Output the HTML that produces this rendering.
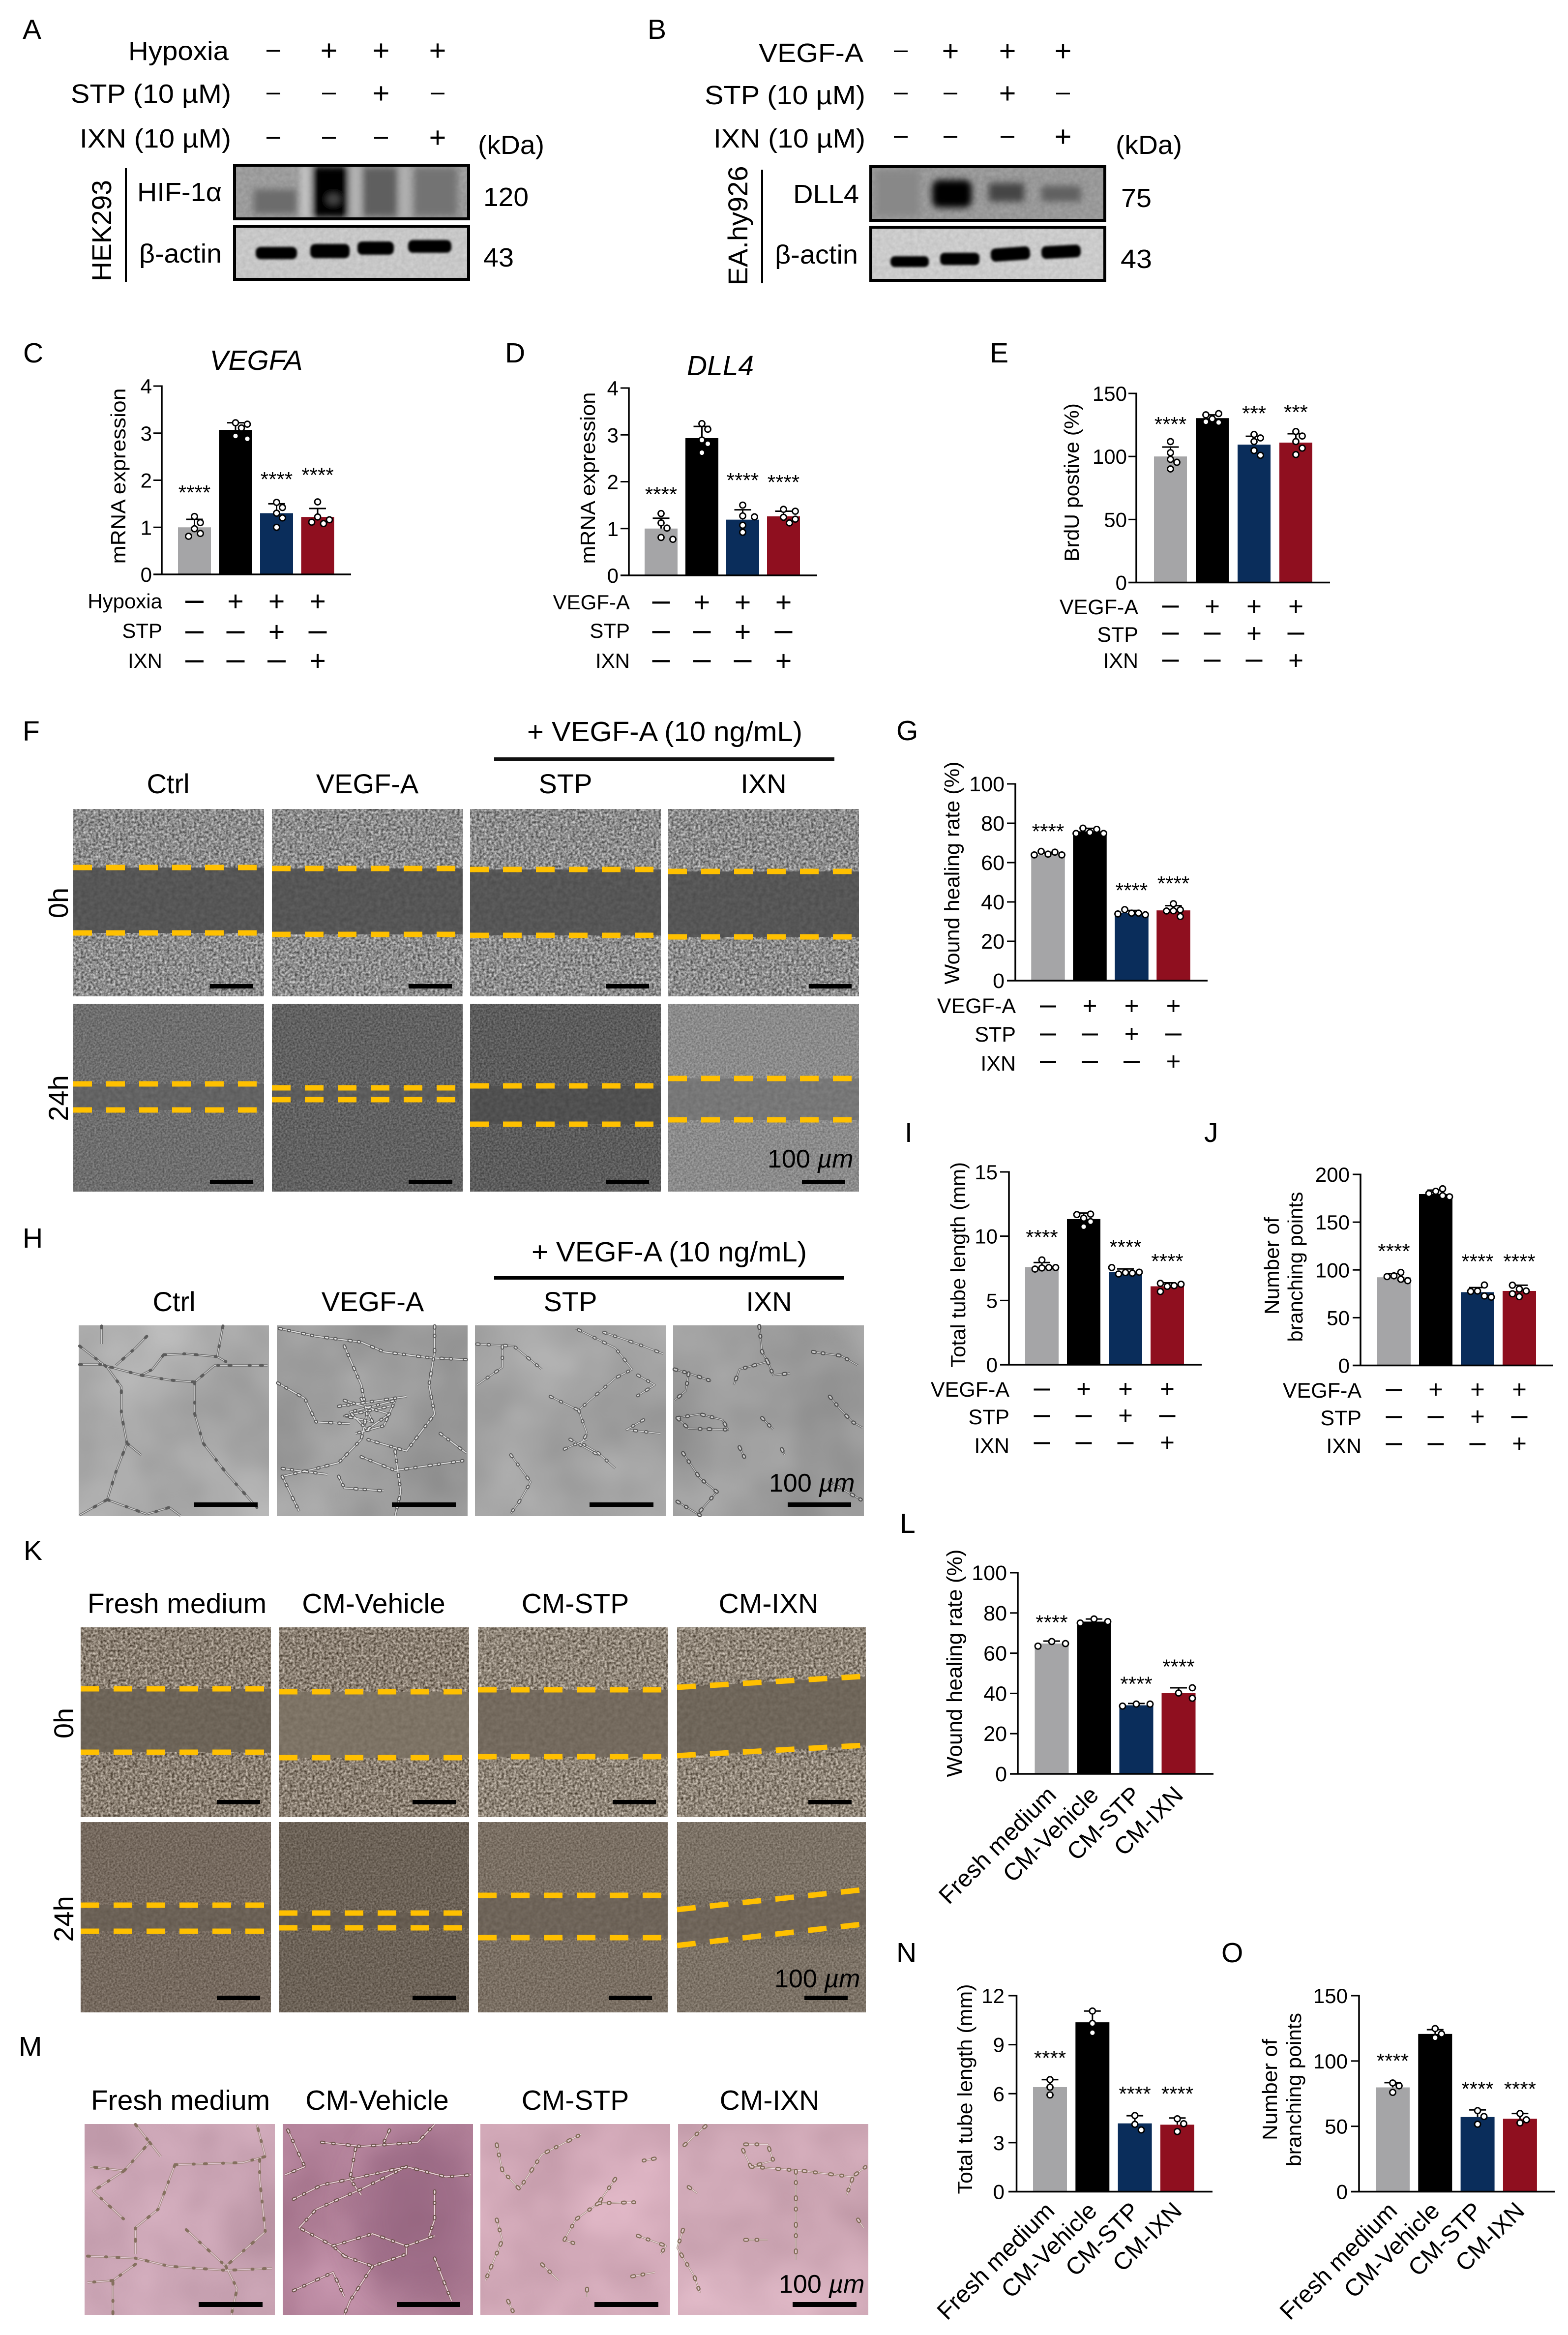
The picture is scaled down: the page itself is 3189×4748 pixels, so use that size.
<!DOCTYPE html>
<html lang="en">
<head>
<meta charset="utf-8">
<title>Multi-panel figure: HIF-1α, VEGFA and DLL4 angiogenesis assays</title>
<style>
html,body{margin:0;padding:0;background:#fff}
svg{display:block;font-family:"Liberation Sans",sans-serif;fill:#000}
text{fill:#000}
</style>
</head>
<body>
<svg id="figure" xmlns="http://www.w3.org/2000/svg" width="3189" height="4748" viewBox="0 0 3189 4748">
<defs>
<filter id="tx-strong" x="0" y="0" width="1" height="1" color-interpolation-filters="sRGB">
  <feTurbulence type="fractalNoise" baseFrequency="0.2" numOctaves="2" seed="4" result="n"/>
  <feColorMatrix in="n" type="matrix" values="1 0 0 0 0 1 0 0 0 0 1 0 0 0 0 0 0 0 0 1" result="g"/>
  <feComposite in="SourceGraphic" in2="g" operator="arithmetic" k1="0" k2="1" k3="0.85" k4="-0.425"/>
</filter>
<filter id="tx-mid" x="0" y="0" width="1" height="1" color-interpolation-filters="sRGB">
  <feTurbulence type="fractalNoise" baseFrequency="0.26" numOctaves="2" seed="9" result="n"/>
  <feColorMatrix in="n" type="matrix" values="1 0 0 0 0 1 0 0 0 0 1 0 0 0 0 0 0 0 0 1" result="g"/>
  <feComposite in="SourceGraphic" in2="g" operator="arithmetic" k1="0" k2="1" k3="0.34" k4="-0.17"/>
</filter>
<filter id="tx-soft" x="0" y="0" width="1" height="1" color-interpolation-filters="sRGB">
  <feTurbulence type="fractalNoise" baseFrequency="0.12" numOctaves="2" seed="2" result="n"/>
  <feColorMatrix in="n" type="matrix" values="1 0 0 0 0 1 0 0 0 0 1 0 0 0 0 0 0 0 0 1" result="g"/>
  <feComposite in="SourceGraphic" in2="g" operator="arithmetic" k1="0" k2="1" k3="0.1" k4="-0.05"/>
</filter>
<filter id="tx-mottle" x="0" y="0" width="1" height="1" color-interpolation-filters="sRGB">
  <feTurbulence type="fractalNoise" baseFrequency="0.005" numOctaves="3" seed="6" result="n"/>
  <feColorMatrix in="n" type="matrix" values="1 0 0 0 0 1 0 0 0 0 1 0 0 0 0 0 0 0 0 1" result="g"/>
  <feComposite in="SourceGraphic" in2="g" operator="arithmetic" k1="0" k2="1" k3="0.2" k4="-0.1"/>
</filter>
<filter id="blur-6" x="-20%" y="-20%" width="140%" height="140%"><feGaussianBlur stdDeviation="7"/></filter>
<filter id="blur-3" x="-20%" y="-40%" width="140%" height="180%"><feGaussianBlur stdDeviation="2.5"/></filter>
<filter id="blur-30" x="-30%" y="-30%" width="160%" height="160%"><feGaussianBlur stdDeviation="30"/></filter>
<clipPath id="clip-a1"><rect x="474" y="333" width="482" height="115"/></clipPath>
<clipPath id="clip-b1"><rect x="1768" y="336" width="482" height="115"/></clipPath>
<clipPath id="clip-m2"><rect x="575" y="4319" width="387" height="388"/></clipPath>

<path id="net-h1" fill="none" vector-effect="non-scaling-stroke" stroke-linejoin="round" d="M141 745L180 745L210 770L250 800L300 825L345 835L380 750L474 750M290 695L330 690L385 705L400 730M260 600L240 660L205 750M290 695L270 770L250 800M395 547L385 700M141 650L190 760L215 860L215 1000L225 1150L205 1300L190 1440L141 1520M345 835L345 1000L360 1150L400 1300L455 1480M190 1440L260 1515L300 1480L320 1523M180 547L180 640M225 1150L250 1210"/>
<path id="net-h2" fill="none" vector-effect="non-scaling-stroke" stroke-linejoin="round" d="M495 560L560 600L640 630L680 680L760 710L826 720M610 650L640 850L650 1000L640 1130L600 1250L560 1280L500 1320M770 547L770 680L760 850L770 1000L720 1190L650 1130M492 840L540 920L560 1040L620 1050M610 930L690 1000L650 1080L620 990L700 930L680 1060L630 1100M640 920L660 1040L610 1010L690 960M700 1190L710 1400L700 1523M640 1220L700 1290L820 1240M600 1320L610 1380L680 1395M780 1100L826 1200M500 1320L530 1500M600 960L720 910M500 1280L580 1310"/>
<path id="net-h3" fill="none" vector-effect="non-scaling-stroke" stroke-linejoin="round" d="M845 640L910 650L960 770M890 650L890 760L845 850M975 910L1025 980L1090 815L1120 770L1090 660L1020 560M1070 580L1130 640L1175 690M1130 800L1160 850L1130 905M1025 980L1040 1100L1030 1150L1060 1200L1090 1280M1010 1130L1060 1210M905 1210L940 1350L920 1450L905 1510M1140 1030L1110 1080L1170 1100M1000 1180L1040 1130"/>
<path id="net-h4" fill="none" vector-effect="non-scaling-stroke" stroke-linejoin="round" d="M1345 547L1350 680L1360 730L1310 770L1300 850M1360 730L1370 800L1400 790M1440 680L1490 700L1520 750M1195 770L1220 790L1260 830M1220 790L1215 880L1195 930M1200 1020L1240 1000L1280 1030L1290 1080L1220 1075L1200 1020M1350 1020L1370 1080M1470 910L1490 980L1510 1040L1528 1070M1210 1200L1240 1330L1270 1400L1240 1500M1200 1450L1240 1520M1310 1170L1320 1230M1385 1180L1390 1210M1470 1350L1525 1440"/>
<path id="net-m1" fill="none" vector-effect="non-scaling-stroke" stroke-linejoin="round" d="M240 532L265 620L220 760L160 740M265 620L285 690M310 730L430 720L470 690L455 532M310 730L280 950L240 1040L240 1170M220 760L165 860L220 1000M155 1180L240 1190L300 1230L400 1250L482 1240M330 1050L400 1230L470 1060L460 800L460 700M400 1230L420 1340L410 1468M200 1300L155 1310M240 1220L200 1300L200 1468"/>
<path id="net-m2" fill="none" vector-effect="non-scaling-stroke" stroke-linejoin="round" d="M510 560L540 740L505 780M570 620L640 640L740 620L770 532M630 650L620 800L640 880M520 900L570 830L640 790L720 740L790 790L834 780M720 740L640 850L560 950L530 1040L590 1130M770 860L770 1000L760 1080M590 1130L660 1070L720 1130L770 1080M610 1180L660 1230L720 1170L720 1130M610 1180L590 1130M660 1230L620 1400L610 1468M770 1190L800 1400M520 1350L590 1260L610 1380M690 560L680 620"/>
<path id="net-m3" fill="none" vector-effect="non-scaling-stroke" stroke-linejoin="round" d="M880 630L890 760L920 850L960 680L1030 580M1060 920L1020 1000L1000 1100L1020 1120M1060 920L1125 915M1090 800L1060 920M880 1000L890 1100L860 1300M1130 1080L1180 1130L1170 1170M960 1220L990 1300M1160 700L1140 710M1040 1340L1040 1380M1120 1280L1160 1260M900 1400L910 1460"/>
<path id="net-m4" fill="none" vector-effect="non-scaling-stroke" stroke-linejoin="round" d="M1250 540L1210 640M1320 630L1360 630L1370 710L1330 740L1315 650M1330 740L1420 760L1510 790L1534 740M1410 760L1410 880L1410 1200M1510 800L1500 880M1210 1050L1200 1140L1230 1280L1240 1360M1320 1100L1360 1100M1220 840L1235 870M1520 1000L1530 1040"/>
</defs>

<rect x="0" y="0" width="3189" height="4748" fill="#fff"/>

<!-- Panel A -->
<g>
  <text x="46" y="79" font-size="57">A</text>
  <text x="465" y="122" text-anchor="end" font-size="54" textLength="204" lengthAdjust="spacingAndGlyphs">Hypoxia</text>
  <text x="470" y="209" text-anchor="end" font-size="54" textLength="326" lengthAdjust="spacingAndGlyphs">STP (10 µM)</text>
  <text x="470" y="300" text-anchor="end" font-size="54" textLength="308" lengthAdjust="spacingAndGlyphs">IXN (10 µM)</text>
  <g id="treat-a"></g>
  <text x="972" y="313" font-size="54" textLength="135" lengthAdjust="spacingAndGlyphs">(kDa)</text>
  <text transform="translate(226,469) rotate(-90)" text-anchor="middle" font-size="56" textLength="206" lengthAdjust="spacingAndGlyphs">HEK293</text>
  <rect x="254" y="342" width="4" height="231" fill="#000"/>
  <text x="279" y="409" font-size="54" textLength="172" lengthAdjust="spacingAndGlyphs">HIF-1α</text>
  <text x="283" y="534" font-size="54" textLength="168" lengthAdjust="spacingAndGlyphs">β-actin</text>
  <text x="983" y="419" font-size="54" textLength="92" lengthAdjust="spacingAndGlyphs">120</text>
  <text x="983" y="542" font-size="54" textLength="62" lengthAdjust="spacingAndGlyphs">43</text>
  <g clip-path="url(#clip-a1)">
    <rect x="474" y="333" width="482" height="115" fill="#9c9c9c" filter="url(#tx-soft)"/>
    <g filter="url(#blur-6)">
      <rect x="612" y="335" width="18" height="112" fill="#c6c6c6"/>
      <rect x="712" y="335" width="22" height="112" fill="#b4b4b4"/>
      <rect x="812" y="335" width="22" height="112" fill="#b0b0b0"/>
      <rect x="516" y="385" width="88" height="50" fill="#6c6c6c"/>
      <rect x="636" y="338" width="72" height="104" fill="#050505"/>
      <rect x="738" y="340" width="70" height="100" fill="#5e5e5e"/>
      <rect x="842" y="340" width="88" height="100" fill="#737373"/>
      <ellipse cx="678" cy="405" rx="13" ry="10" fill="#4a4a4a"/>
    </g>
  </g>
  <rect x="477" y="336" width="476" height="109" fill="none" stroke="#000" stroke-width="6"/>
  <g>
    <rect x="474" y="457" width="482" height="114" fill="#c7c7c7" filter="url(#tx-soft)"/>
    <g filter="url(#blur-3)" fill="#000">
      <rect x="520" y="502" width="84" height="25" rx="10"/>
      <rect x="631" y="496" width="80" height="29" rx="10"/>
      <rect x="727" y="491" width="74" height="27" rx="10"/>
      <rect x="830" y="488" width="88" height="26" rx="10"/>
    </g>
  </g>
  <rect x="477" y="460" width="476" height="108" fill="none" stroke="#000" stroke-width="6"/>
</g>

<!-- Panel B -->
<g>
  <text x="1317" y="79" font-size="57">B</text>
  <text x="1756" y="126" text-anchor="end" font-size="54" textLength="213" lengthAdjust="spacingAndGlyphs">VEGF-A</text>
  <text x="1760" y="212" text-anchor="end" font-size="54" textLength="327" lengthAdjust="spacingAndGlyphs">STP (10 µM)</text>
  <text x="1760" y="300" text-anchor="end" font-size="54" textLength="309" lengthAdjust="spacingAndGlyphs">IXN (10 µM)</text>
  <g id="treat-b"></g>
  <text x="2269" y="313" font-size="54" textLength="135" lengthAdjust="spacingAndGlyphs">(kDa)</text>
  <text transform="translate(1520,459) rotate(-90)" text-anchor="middle" font-size="56" textLength="243" lengthAdjust="spacingAndGlyphs">EA.hy926</text>
  <rect x="1548" y="345" width="4" height="231" fill="#000"/>
  <text x="1613" y="413" font-size="54" textLength="134" lengthAdjust="spacingAndGlyphs">DLL4</text>
  <text x="1576" y="536" font-size="54" textLength="169" lengthAdjust="spacingAndGlyphs">β-actin</text>
  <text x="2280" y="421" font-size="54" textLength="62" lengthAdjust="spacingAndGlyphs">75</text>
  <text x="2279" y="545" font-size="54" textLength="64" lengthAdjust="spacingAndGlyphs">43</text>
  <g clip-path="url(#clip-b1)">
    <rect x="1768" y="336" width="482" height="115" fill="#999" filter="url(#tx-soft)"/>
    <g filter="url(#blur-6)">
      <rect x="1896" y="366" width="80" height="56" rx="14" fill="#000"/>
      <rect x="2011" y="372" width="72" height="38" fill="#454545"/>
      <rect x="2118" y="378" width="80" height="32" fill="#606060"/>
      <rect x="1780" y="345" width="90" height="95" fill="#888"/>
    </g>
  </g>
  <rect x="1771" y="339" width="476" height="109" fill="none" stroke="#000" stroke-width="6"/>
  <g>
    <rect x="1768" y="459" width="482" height="114" fill="#cbcbcb" filter="url(#tx-soft)"/>
    <g filter="url(#blur-3)" fill="#000">
      <rect x="1811" y="521" width="78" height="22" rx="9"/>
      <rect x="1912" y="514" width="80" height="25" rx="9"/>
      <rect x="2015" y="503" width="80" height="27" rx="10" transform="rotate(-4 2055 517)"/>
      <rect x="2118" y="499" width="80" height="26" rx="10" transform="rotate(-3 2158 512)"/>
    </g>
  </g>
  <rect x="1771" y="462" width="476" height="108" fill="none" stroke="#000" stroke-width="6"/>
</g>

<!-- Panels C, D, E -->
<text x="47" y="737" font-size="57">C</text>
<text x="521" y="752" text-anchor="middle" font-size="57" font-style="italic">VEGFA</text>
<text transform="translate(255,968) rotate(-90)" text-anchor="middle" font-size="42" textLength="357" lengthAdjust="spacingAndGlyphs">mRNA expression</text>
<text x="330" y="1237" text-anchor="end" font-size="42">Hypoxia</text>
<text x="330" y="1297" text-anchor="end" font-size="42">STP</text>
<text x="330" y="1358" text-anchor="end" font-size="42">IXN</text>
<g id="chart-c"></g>

<text x="1027" y="737" font-size="57">D</text>
<text x="1465" y="763" text-anchor="middle" font-size="57" font-style="italic">DLL4</text>
<text transform="translate(1210,972) rotate(-90)" text-anchor="middle" font-size="42" textLength="349" lengthAdjust="spacingAndGlyphs">mRNA expression</text>
<text x="1281" y="1239" text-anchor="end" font-size="42">VEGF-A</text>
<text x="1281" y="1297" text-anchor="end" font-size="42">STP</text>
<text x="1281" y="1358" text-anchor="end" font-size="42">IXN</text>
<g id="chart-d"></g>

<text x="2013" y="737" font-size="57">E</text>
<text transform="translate(2194,981) rotate(-90)" text-anchor="middle" font-size="42" textLength="322" lengthAdjust="spacingAndGlyphs">BrdU postive (%)</text>
<text x="2315" y="1249" text-anchor="end" font-size="43">VEGF-A</text>
<text x="2315" y="1305" text-anchor="end" font-size="43">STP</text>
<text x="2315" y="1358" text-anchor="end" font-size="43">IXN</text>
<g id="chart-e"></g>

<!-- Panel F -->
<g>
  <text x="46" y="1506" font-size="57">F</text>
  <text x="1352" y="1507" text-anchor="middle" font-size="57" textLength="560" lengthAdjust="spacingAndGlyphs">+ VEGF-A (10 ng/mL)</text>
  <rect x="1005" y="1540" width="692" height="7" fill="#111"/>
  <text x="342" y="1613" text-anchor="middle" font-size="56">Ctrl</text>
  <text x="747" y="1613" text-anchor="middle" font-size="56">VEGF-A</text>
  <text x="1150" y="1613" text-anchor="middle" font-size="56">STP</text>
  <text x="1553" y="1613" text-anchor="middle" font-size="56">IXN</text>
  <text transform="translate(138,1836) rotate(-90)" text-anchor="middle" font-size="56">0h</text>
  <text transform="translate(138,2233) rotate(-90)" text-anchor="middle" font-size="56">24h</text>

  <g><rect x="149" y="1645" width="388" height="381" fill="#8c8c8c" filter="url(#tx-strong)"/><rect x="149" y="1764" width="388" height="133" fill="#565656" filter="url(#tx-soft)"/></g>
  <g><rect x="553" y="1645" width="388" height="381" fill="#8c8c8c" filter="url(#tx-strong)"/><rect x="553" y="1766" width="388" height="134" fill="#565656" filter="url(#tx-soft)"/></g>
  <g><rect x="956" y="1645" width="388" height="381" fill="#8c8c8c" filter="url(#tx-strong)"/><rect x="956" y="1768" width="388" height="134" fill="#565656" filter="url(#tx-soft)"/></g>
  <g><rect x="1359" y="1645" width="388" height="381" fill="#8c8c8c" filter="url(#tx-strong)"/><rect x="1359" y="1772" width="388" height="133" fill="#565656" filter="url(#tx-soft)"/></g>
  <g><rect x="149" y="2041" width="388" height="382" fill="#6e6e6e" filter="url(#tx-mid)"/><rect x="149" y="2204" width="388" height="53" fill="#636363" filter="url(#tx-soft)"/></g>
  <g><rect x="553" y="2041" width="388" height="382" fill="#616161" filter="url(#tx-mid)"/><rect x="553" y="2212" width="388" height="24" fill="#5c5c5c" filter="url(#tx-soft)"/></g>
  <g><rect x="956" y="2041" width="388" height="382" fill="#5c5c5c" filter="url(#tx-mid)"/><rect x="956" y="2208" width="388" height="78" fill="#505050" filter="url(#tx-soft)"/></g>
  <g><rect x="1359" y="2041" width="388" height="382" fill="#8b8b8b" filter="url(#tx-mid)"/><rect x="1359" y="2193" width="388" height="84" fill="#777" filter="url(#tx-soft)"/></g>

  <g fill="none" stroke="#ffc000" stroke-width="11" stroke-dasharray="38 29">
    <path d="M149 1764H530M149 1897H530"/>
    <path d="M553 1766H934M553 1900H934"/>
    <path d="M956 1768H1337M956 1902H1337"/>
    <path d="M1359 1772H1740M1359 1905H1740"/>
    <path d="M149 2204H530M149 2257H530"/>
    <path d="M553 2212H934M553 2236H934"/>
    <path d="M956 2208H1337M956 2286H1337"/>
    <path d="M1359 2193H1740M1359 2277H1740"/>
  </g>
  <g fill="#000">
    <rect x="427" y="2001" width="88" height="9"/>
    <rect x="831" y="2001" width="89" height="9"/>
    <rect x="1232" y="2001" width="88" height="9"/>
    <rect x="1645" y="2001" width="87" height="9"/>
    <rect x="427" y="2399" width="88" height="9"/>
    <rect x="831" y="2399" width="89" height="9"/>
    <rect x="1232" y="2399" width="88" height="9"/>
    <rect x="1631" y="2399" width="88" height="9"/>
  </g>
  <text x="1561" y="2374" font-size="52">100 <tspan font-style="italic">µm</tspan></text>
</g>

<!-- Panel G -->
<text x="1823" y="1505" font-size="57">G</text>
<text transform="translate(1951,1775) rotate(-90)" text-anchor="middle" font-size="43" textLength="453" lengthAdjust="spacingAndGlyphs">Wound healing rate (%)</text>
<text x="2066" y="2060" text-anchor="end" font-size="43">VEGF-A</text>
<text x="2066" y="2118" text-anchor="end" font-size="43">STP</text>
<text x="2066" y="2177" text-anchor="end" font-size="43">IXN</text>
<g id="chart-g"></g>

<!-- Panel H -->
<g>
  <text x="46" y="2537" font-size="57">H</text>
  <text x="1361" y="2565" text-anchor="middle" font-size="57" textLength="560" lengthAdjust="spacingAndGlyphs">+ VEGF-A (10 ng/mL)</text>
  <rect x="1005" y="2595" width="711" height="7" fill="#000"/>
  <text x="354" y="2666" text-anchor="middle" font-size="56">Ctrl</text>
  <text x="758" y="2666" text-anchor="middle" font-size="56">VEGF-A</text>
  <text x="1160" y="2666" text-anchor="middle" font-size="56">STP</text>
  <text x="1564" y="2666" text-anchor="middle" font-size="56">IXN</text>
  <rect x="160" y="2695" width="387" height="388" fill="#aaaaaa" filter="url(#tx-mottle)"/>
  <rect x="563" y="2695" width="388" height="388" fill="#9d9d9d" filter="url(#tx-mottle)"/>
  <rect x="966" y="2695" width="388" height="388" fill="#a5a5a5" filter="url(#tx-mottle)"/>
  <rect x="1369" y="2695" width="388" height="388" fill="#9c9c9c" filter="url(#tx-mottle)"/>
  <g transform="matrix(1.148 0 0 0.3954 0 2480)">
    <g><use href="#net-h1" stroke="#6e6e6e" stroke-width="4.5"/><use href="#net-h1" stroke="#d2d2d2" stroke-width="1.6"/><use href="#net-h1" stroke="#5c5c5c" stroke-width="6" stroke-dasharray="4 37 2 21" stroke-linecap="round"/></g>
    <g><use href="#net-h2" stroke="#6c6c6c" stroke-width="5"/><use href="#net-h2" stroke="#dcdcdc" stroke-width="2.2"/><use href="#net-h2" stroke="#575757" stroke-width="7" stroke-dasharray="4 15 2 27" stroke-linecap="round"/><use href="#net-h2" stroke="#e8e8e8" stroke-width="3" stroke-dasharray="4 15 2 27" stroke-linecap="round"/></g>
    <g><use href="#net-h3" stroke="#6e6e6e" stroke-width="4"/><use href="#net-h3" stroke="#d8d8d8" stroke-width="1.6"/><use href="#net-h3" stroke="#5a5a5a" stroke-width="7" stroke-dasharray="4 19 2 31" stroke-linecap="round"/><use href="#net-h3" stroke="#dcdcdc" stroke-width="3" stroke-dasharray="4 19 2 31" stroke-linecap="round"/></g>
    <g><use href="#net-h4" stroke="#686868" stroke-width="4"/><use href="#net-h4" stroke="#d0d0d0" stroke-width="1.4"/><use href="#net-h4" stroke="#505050" stroke-width="8" stroke-dasharray="4 16 2 29" stroke-linecap="round"/><use href="#net-h4" stroke="#cccccc" stroke-width="3.5" stroke-dasharray="4 16 2 29" stroke-linecap="round"/></g>
  </g>
  <g fill="#000">
    <rect x="395" y="3055" width="129" height="9"/>
    <rect x="797" y="3055" width="130" height="9"/>
    <rect x="1199" y="3055" width="130" height="9"/>
    <rect x="1602" y="3055" width="129" height="9"/>
  </g>
  <text x="1564" y="3033" font-size="52">100 <tspan font-style="italic">µm</tspan></text>
</g>

<!-- Panels I, J -->
<text x="1840" y="2322" font-size="57">I</text>
<text transform="translate(1963,2572) rotate(-90)" text-anchor="middle" font-size="42" textLength="418" lengthAdjust="spacingAndGlyphs">Total tube length (mm)</text>
<text x="2053" y="2840" text-anchor="end" font-size="43">VEGF-A</text>
<text x="2053" y="2896" text-anchor="end" font-size="43">STP</text>
<text x="2053" y="2954" text-anchor="end" font-size="43">IXN</text>
<g id="chart-i"></g>

<text x="2449" y="2322" font-size="57">J</text>
<text transform="translate(2601,2574) rotate(-90)" text-anchor="middle" font-size="42" textLength="198" lengthAdjust="spacingAndGlyphs">Number of</text>
<text transform="translate(2649,2576) rotate(-90)" text-anchor="middle" font-size="42" textLength="305" lengthAdjust="spacingAndGlyphs">branching points</text>
<text x="2769" y="2842" text-anchor="end" font-size="43">VEGF-A</text>
<text x="2769" y="2898" text-anchor="end" font-size="43">STP</text>
<text x="2769" y="2955" text-anchor="end" font-size="43">IXN</text>
<g id="chart-j"></g>

<!-- Panel K -->
<g>
  <text x="48" y="3172" font-size="57">K</text>
  <text x="360" y="3280" text-anchor="middle" font-size="57">Fresh medium</text>
  <text x="760" y="3280" text-anchor="middle" font-size="57">CM-Vehicle</text>
  <text x="1170" y="3280" text-anchor="middle" font-size="57">CM-STP</text>
  <text x="1563" y="3280" text-anchor="middle" font-size="57">CM-IXN</text>
  <text transform="translate(149,3504) rotate(-90)" text-anchor="middle" font-size="56">0h</text>
  <text transform="translate(149,3902) rotate(-90)" text-anchor="middle" font-size="56">24h</text>

  <g><rect x="164" y="3309" width="387" height="386" fill="#8a7f72" filter="url(#tx-strong)"/><rect x="164" y="3434" width="387" height="129" fill="#6d6458" filter="url(#tx-soft)"/></g>
  <g><rect x="567" y="3309" width="387" height="386" fill="#8a7f72" filter="url(#tx-strong)"/><rect x="567" y="3440" width="387" height="134" fill="#7d7365" filter="url(#tx-soft)"/></g>
  <g><rect x="972" y="3309" width="386" height="386" fill="#8f8578" filter="url(#tx-strong)"/><rect x="972" y="3436" width="386" height="136" fill="#746a5e" filter="url(#tx-soft)"/></g>
  <g><rect x="1377" y="3309" width="384" height="386" fill="#8f8578" filter="url(#tx-strong)"/><path d="M1377 3431L1761 3409V3549L1377 3570Z" fill="#6f665a" filter="url(#tx-soft)"/></g>
  <g><rect x="164" y="3705" width="387" height="387" fill="#75695e" filter="url(#tx-mid)"/><rect x="164" y="3874" width="387" height="53" fill="#6b6156" filter="url(#tx-soft)"/></g>
  <g><rect x="567" y="3705" width="387" height="387" fill="#6c6257" filter="url(#tx-mid)"/><rect x="567" y="3890" width="387" height="30" fill="#655b50" filter="url(#tx-soft)"/></g>
  <g><rect x="972" y="3705" width="386" height="387" fill="#7a6f63" filter="url(#tx-mid)"/><rect x="972" y="3854" width="386" height="86" fill="#6e6459" filter="url(#tx-soft)"/></g>
  <g><rect x="1377" y="3705" width="384" height="387" fill="#7c7266" filter="url(#tx-mid)"/><path d="M1377 3883L1761 3843V3913L1377 3956Z" fill="#6f655a" filter="url(#tx-soft)"/></g>

  <g fill="none" stroke="#ffc000" stroke-width="11" stroke-dasharray="38 29">
    <path d="M164 3434H544M164 3563H544"/>
    <path d="M567 3440H947M567 3574H947"/>
    <path d="M972 3436H1350M972 3572H1350"/>
    <path d="M1377 3431L1751 3409M1377 3570L1755 3549"/>
    <path d="M164 3874H544M164 3927H544"/>
    <path d="M567 3890H947M567 3920H947"/>
    <path d="M972 3854H1350M972 3940H1350"/>
    <path d="M1377 3883L1751 3843M1377 3956L1751 3913"/>
  </g>
  <g fill="#000">
    <rect x="441" y="3660" width="88" height="9"/>
    <rect x="839" y="3660" width="88" height="9"/>
    <rect x="1246" y="3660" width="88" height="9"/>
    <rect x="1644" y="3660" width="88" height="9"/>
    <rect x="441" y="4058" width="88" height="9"/>
    <rect x="839" y="4058" width="88" height="9"/>
    <rect x="1238" y="4058" width="88" height="9"/>
    <rect x="1636" y="4058" width="88" height="9"/>
  </g>
  <text x="1575" y="4041" font-size="52">100 <tspan font-style="italic">µm</tspan></text>
</g>

<!-- Panel L -->
<text x="1830" y="3117" font-size="57">L</text>
<text transform="translate(1956,3382) rotate(-90)" text-anchor="middle" font-size="44" textLength="463" lengthAdjust="spacingAndGlyphs">Wound healing rate (%)</text>
<g id="chart-l"></g>

<!-- Panel M -->
<g>
  <text x="38" y="4181" font-size="57">M</text>
  <text x="367" y="4290" text-anchor="middle" font-size="57">Fresh medium</text>
  <text x="767" y="4290" text-anchor="middle" font-size="57">CM-Vehicle</text>
  <text x="1170" y="4290" text-anchor="middle" font-size="57">CM-STP</text>
  <text x="1565" y="4290" text-anchor="middle" font-size="57">CM-IXN</text>
  <rect x="172" y="4319" width="387" height="388" fill="#c9a3b3" filter="url(#tx-mottle)"/>
  <rect x="575" y="4319" width="387" height="388" fill="#b3829a" filter="url(#tx-mottle)"/>
  <g clip-path="url(#clip-m2)"><ellipse cx="850" cy="4500" rx="130" ry="170" fill="#8c5c78" opacity=".55" filter="url(#blur-30)"/></g>
  <rect x="977" y="4319" width="386" height="388" fill="#d2a9b8" filter="url(#tx-mottle)"/>
  <rect x="1379" y="4319" width="387" height="388" fill="#d0a9b7" filter="url(#tx-mottle)"/>
  <g transform="matrix(1.148 0 0 0.4132 0 4100)">
    <g><use href="#net-m1" stroke="#a88e88" stroke-width="4.5"/><use href="#net-m1" stroke="#e4ccd6" stroke-width="1.6"/><use href="#net-m1" stroke="#85705f" stroke-width="6" stroke-dasharray="4 33 2 21" stroke-linecap="round"/></g>
    <g><use href="#net-m2" stroke="#835f60" stroke-width="4.5"/><use href="#net-m2" stroke="#e8d0d8" stroke-width="2.2"/><use href="#net-m2" stroke="#6a5048" stroke-width="7" stroke-dasharray="4 19 2 27" stroke-linecap="round"/><use href="#net-m2" stroke="#ecd8de" stroke-width="3" stroke-dasharray="4 19 2 27" stroke-linecap="round"/></g>
    <g><use href="#net-m3" stroke="#a88e84" stroke-width="3.5"/><use href="#net-m3" stroke="#eedde2" stroke-width="1.4"/><use href="#net-m3" stroke="#7f6a55" stroke-width="8" stroke-dasharray="4 17 2 27" stroke-linecap="round"/><use href="#net-m3" stroke="#e0c6cc" stroke-width="3.5" stroke-dasharray="4 17 2 27" stroke-linecap="round"/></g>
    <g><use href="#net-m4" stroke="#a88e84" stroke-width="3.5"/><use href="#net-m4" stroke="#eedde2" stroke-width="1.4"/><use href="#net-m4" stroke="#7f6a55" stroke-width="8" stroke-dasharray="4 19 2 29" stroke-linecap="round"/><use href="#net-m4" stroke="#e0c6cc" stroke-width="3.5" stroke-dasharray="4 19 2 29" stroke-linecap="round"/></g>
  </g>
  <g fill="#000">
    <rect x="404" y="4681" width="130" height="10"/>
    <rect x="807" y="4681" width="129" height="10"/>
    <rect x="1209" y="4681" width="130" height="10"/>
    <rect x="1612" y="4681" width="130" height="10"/>
  </g>
  <text x="1584" y="4662" font-size="52">100 <tspan font-style="italic">µm</tspan></text>
</g>

<!-- Panels N, O -->
<text x="1823" y="3990" font-size="57">N</text>
<text transform="translate(1977,4248) rotate(-90)" text-anchor="middle" font-size="42" textLength="427" lengthAdjust="spacingAndGlyphs">Total tube length (mm)</text>
<g id="chart-n"></g>

<text x="2484" y="3990" font-size="57">O</text>
<text transform="translate(2597,4249) rotate(-90)" text-anchor="middle" font-size="42" textLength="206" lengthAdjust="spacingAndGlyphs">Number of</text>
<text transform="translate(2646,4249) rotate(-90)" text-anchor="middle" font-size="42" textLength="312" lengthAdjust="spacingAndGlyphs">branching points</text>
<g id="chart-o"></g>
</svg>

<script>
// Shared categories and treatment flags
const treatCategories = ['Control', 'Stimulus', 'Stimulus+STP', 'Stimulus+IXN'];
const cmCategories = ['Fresh medium', 'CM-Vehicle', 'CM-STP', 'CM-IXN'];
const stimFlags = [0, 1, 1, 1];
const stpFlags = [0, 0, 1, 0];
const ixnFlags = [0, 0, 0, 1];
const barColors = ['#a5a5a7', '#000000', '#0a2d5b', '#8f0f1f'];

// Panel C: VEGFA mRNA
const cTicks = [0, 1, 2, 3, 4];
const cMeans = [1.0, 3.07, 1.3, 1.22];
const cErrors = [1.17, 3.22, 1.5, 1.4];
const cPoints = [[1.23, 1.10, 0.97, 0.87, 0.81], [3.22, 3.19, 3.11, 2.94, 2.88], [1.53, 1.42, 1.30, 1.20, 1.0], [1.54, 1.22, 1.16, 1.11, 1.08]];
const cStars = ['****', '', '****', '****'];
const cStarLevels = [1.84, 0, 2.12, 2.21];

// Panel D: DLL4 mRNA
const dTicks = [0, 1, 2, 3, 4];
const dMeans = [1.0, 2.93, 1.19, 1.26];
const dErrors = [1.22, 3.18, 1.4, 1.37];
const dPoints = [[1.32, 1.12, 1.01, 0.81, 0.77], [3.24, 3.12, 2.89, 2.81, 2.62], [1.5, 1.27, 1.25, 1.07, 0.92], [1.41, 1.37, 1.24, 1.2, 1.12]];
const dStars = ['****', '', '****', '****'];
const dStarLevels = [1.83, 0, 2.13, 2.09];

// Panel E: BrdU
const eTicks = [0, 50, 100, 150];
const eMeans = [100, 130.4, 109.4, 111];
const eErrors = [107.5, 133, 116, 118];
const ePoints = [[111.8, 103, 97.7, 95.4, 90.1], [129.8, 134, 133, 127, 127.5], [117.5, 114.7, 111.8, 104.7, 100.9], [119.8, 116.2, 111.8, 106.6, 101.5]];
const eStars = ['****', '', '***', '***'];
const eStarLevels = [129.4, 0, 137.9, 138.9];

// Panel G: wound healing with VEGF-A
const gTicks = [0, 20, 40, 60, 80, 100];
const gMeans = [64, 75.9, 34.5, 35.7];
const gErrors = [65, 77.4, 35.7, 38.1];
const gPoints = [[64.3, 65.3, 65.7, 63.9, 63.9], [75.3, 76.9, 77.5, 74.8, 74.8], [34.3, 34.3, 36.1, 33.5, 33.9], [39.1, 35.5, 36, 35.4, 32.6]];
const gStars = ['****', '', '****', '****'];
const gStarLevels = [78.2, 0, 48.2, 51.8];

// Panel I: tube length with VEGF-A
const iTicks = [0, 5, 10, 15];
const iMeans = [7.6, 11.33, 7.2, 6.1];
const iErrors = [7.95, 11.8, 7.45, 6.37];
const iPoints = [[7.53, 8.15, 7.56, 7.44, 7.56], [11.4, 11.72, 11.68, 11.13, 10.74], [7.17, 7.12, 7.06, 7.2, 7.56], [6.1, 6.15, 6.33, 6.26, 5.69]];
const iStars = ['****', '', '****', '****'];
const iStarLevels = [10.29, 0, 9.52, 8.42];

// Panel J: branching points with VEGF-A
const jTicks = [0, 50, 100, 150, 200];
const jMeans = [92.3, 179.4, 76.7, 78];
const jErrors = [96.2, 183.5, 81.5, 84];
const jPoints = [[93.8, 90.2, 97.4, 93, 88.7], [182.3, 177.7, 184.9, 179.9, 176.5], [77.9, 72.7, 84.2, 77.5, 71.5], [80, 78, 84, 75, 72]];
const jStars = ['****', '', '****', '****'];
const jStarLevels = [124.7, 0, 113.7, 113.7];

// Panel L: wound healing with conditioned medium
const lTicks = [0, 20, 40, 60, 80, 100];
const lMeans = [64.8, 75.7, 34.1, 40.1];
const lErrors = [66, 77, 35, 42.8];
const lPoints = [[65.8, 64.8, 63.5], [77, 75.7, 75], [34.7, 34.7, 33.7], [40.2, 42.8, 37.6]];
const lStars = ['****', '', '****', '****'];
const lStarLevels = [77.6, 0, 47.1, 55.6];

// Panel N: tube length with conditioned medium
const nTicks = [0, 3, 6, 9, 12];
const nMeans = [6.4, 10.37, 4.18, 4.1];
const nErrors = [6.86, 11.06, 4.65, 4.51];
const nPoints = [[6.86, 6.4, 5.92], [11.06, 10.3, 9.73], [4.66, 4.12, 3.78], [4.46, 4.16, 3.68]];
const nStars = ['****', '', '****', '****'];
const nStarLevels = [8.47, 0, 6.28, 6.28];

// Panel O: branching points with conditioned medium
const oTicks = [0, 50, 100, 150];
const oMeans = [79.8, 120.7, 57.1, 55.8];
const oErrors = [83.4, 124, 62.6, 59.8];
const oPoints = [[83.2, 81, 76], [124.8, 120.7, 117.8], [62, 57.5, 51.6], [59.8, 55, 52.6]];
const oStars = ['****', '', '****', '****'];
const oStarLevels = [103.7, 0, 82.3, 82.3];

const SVGNS = 'http://www.w3.org/2000/svg';

function mk(tag, attrs, parent) {
  const el = document.createElementNS(SVGNS, tag);
  for (const k in attrs) el.setAttribute(k, attrs[k]);
  parent.appendChild(el);
  return el;
}

// Beeswarm layout: each point takes the first lateral slot that clears those already placed.
function swarmOffsets(values, yOf, step, minDist) {
  const placed = [];
  const slots = [0, 1, -1, 2, -2, 3, -3];
  return values.map(function (v) {
    const py = yOf(v);
    let dx = 0;
    for (const s of slots) {
      const cand = s * step;
      if (placed.every(function (p) { return Math.hypot(p[0] - cand, p[1] - py) >= minDist; })) {
        dx = cand;
        break;
      }
    }
    placed.push([dx, py]);
    return dx;
  });
}

function drawTreatmentRow(g, centers, yCenter, flags, minusWidth, plusWidth) {
  flags.forEach(function (flag, i) {
    const size = flag ? plusWidth / 0.47 : minusWidth / 0.556;
    const lift = flag ? 0.345 : 0.275;
    const el = mk('text', { x: centers[i], y: yCenter + lift * size, 'text-anchor': 'middle', 'font-size': size }, g);
    
    
    el.textContent = flag ? '+' : '\u2013';
  });
}

function drawBarChart(id, layout, categories, ticks, means, errors, points, stars, starLevels) {
  const g = document.getElementById(id);
  const yMax = ticks[ticks.length - 1];
  const yOf = function (v) { return layout.y0 - (v / yMax) * (layout.y0 - layout.yTop); };
  const xOf = function (i) { return layout.first + i * layout.step; };
  const fs = layout.tickFont || 42;

  means.forEach(function (m, i) {
    const bar = mk('rect', { x: xOf(i) - layout.barW / 2, y: yOf(m), width: layout.barW, height: layout.y0 - yOf(m), fill: barColors[i] }, g);
    
    
    bar.setAttribute('data-category', categories[i]);
  });

  errors.forEach(function (e, i) {
    const stem = mk('line', { x1: xOf(i), x2: xOf(i), y1: yOf(means[i]), y2: yOf(e), stroke: '#000', 'stroke-width': 3 }, g);
    
    
    const cap = mk('line', { x1: xOf(i) - 17, x2: xOf(i) + 17, y1: yOf(e), y2: yOf(e), stroke: '#000', 'stroke-width': 3 }, g);
    
    
  });

  points.forEach(function (vals, i) {
    const offs = swarmOffsets(vals, yOf, layout.swarm, 13.5);
    vals.forEach(function (v, j) {
      const dot = mk('circle', { cx: xOf(i) + offs[j], cy: yOf(v), r: 6, fill: '#fff', stroke: '#000', 'stroke-width': 2.8 }, g);
      
      
    });
  });

  stars.forEach(function (s, i) {
    if (!s) return;
    const st = mk('text', { x: xOf(i), y: yOf(starLevels[i]) + 24, 'text-anchor': 'middle', 'font-size': 42 }, g);
    
    
    st.textContent = s;
  });

  const yAxis = mk('line', { x1: layout.axisX, x2: layout.axisX, y1: layout.yTop - 1.5, y2: layout.y0 + 1.5, stroke: '#000', 'stroke-width': 3.5 }, g);
  
  
  const xAxis = mk('line', { x1: layout.tickLeft, x2: layout.xEnd, y1: layout.y0, y2: layout.y0, stroke: '#000', 'stroke-width': 3.5 }, g);
  
  

  ticks.forEach(function (t) {
    const tick = mk('line', { x1: layout.tickLeft, x2: layout.axisX, y1: yOf(t), y2: yOf(t), stroke: '#000', 'stroke-width': 3 }, g);
    
    
    const lab = mk('text', { x: layout.tickRight, y: yOf(t) + 15, 'text-anchor': 'end', 'font-size': fs }, g);
    
    
    lab.textContent = t;
  });

  if (layout.rows) {
    const centers = means.map(function (m, i) { return xOf(i); });
    drawTreatmentRow(g, centers, layout.rows[0], stimFlags, layout.minus, layout.plus);
    drawTreatmentRow(g, centers, layout.rows[1], stpFlags, layout.minus, layout.plus);
    drawTreatmentRow(g, centers, layout.rows[2], ixnFlags, layout.minus, layout.plus);
  }

  if (layout.rotated) {
    categories.forEach(function (c, i) {
      const x = xOf(i) + 12;
      const y = layout.y0 + layout.rotated;
      const lab = mk('text', { transform: 'translate(' + x + ',' + y + ') rotate(-45)', 'text-anchor': 'end', 'font-size': 49 }, g);
      
      
      lab.textContent = c;
    });
  }
}

// Western-blot treatment rows
const aLaneX = [556, 669, 775, 890];
const bLaneX = [1832, 1933, 2049, 2162];
const gA = document.getElementById('treat-a');
drawTreatmentRow(gA, aLaneX, 102, stimFlags, 28, 28);
drawTreatmentRow(gA, aLaneX, 189, stpFlags, 28, 28);
drawTreatmentRow(gA, aLaneX, 279, ixnFlags, 28, 28);
const gB = document.getElementById('treat-b');
drawTreatmentRow(gB, bLaneX, 103, stimFlags, 28, 28);
drawTreatmentRow(gB, bLaneX, 189, stpFlags, 28, 28);
drawTreatmentRow(gB, bLaneX, 277, ixnFlags, 28, 28);

drawBarChart('chart-c', { axisX: 329, y0: 1168, yTop: 785, tickLeft: 312, xEnd: 714, tickRight: 309, first: 395.5, step: 83.5, barW: 67, swarm: 12, rows: [1222, 1284, 1343], minus: 37, plus: 27 }, treatCategories, cTicks, cMeans, cErrors, cPoints, cStars, cStarLevels);
drawBarChart('chart-d', { axisX: 1279, y0: 1170, yTop: 789, tickLeft: 1262, xEnd: 1662, tickRight: 1258, first: 1344.5, step: 83, barW: 67, swarm: 12, rows: [1224, 1284, 1343], minus: 36, plus: 27 }, treatCategories, dTicks, dMeans, dErrors, dPoints, dStars, dStarLevels);
drawBarChart('chart-e', { axisX: 2311, y0: 1184.5, yTop: 800, tickLeft: 2295, xEnd: 2705, tickRight: 2292, first: 2380.5, step: 85, barW: 67, swarm: 13, rows: [1232, 1287, 1342], minus: 34, plus: 25 }, treatCategories, eTicks, eMeans, eErrors, ePoints, eStars, eStarLevels);
drawBarChart('chart-g', { axisX: 2065, y0: 1994, yTop: 1594, tickLeft: 2048, xEnd: 2456, tickRight: 2043, first: 2131.5, step: 85, barW: 68.5, swarm: 14, tickFont: 43, rows: [2045, 2102, 2158], minus: 33, plus: 24 }, treatCategories, gTicks, gMeans, gErrors, gPoints, gStars, gStarLevels);
drawBarChart('chart-i', { axisX: 2052, y0: 2775, yTop: 2383, tickLeft: 2034, xEnd: 2444, tickRight: 2029, first: 2119, step: 85, barW: 68, swarm: 14, rows: [2824, 2878, 2933], minus: 33, plus: 24 }, treatCategories, iTicks, iMeans, iErrors, iPoints, iStars, iStarLevels);
drawBarChart('chart-j', { axisX: 2767, y0: 2776.5, yTop: 2388, tickLeft: 2751, xEnd: 3158, tickRight: 2745, first: 2835, step: 85, barW: 68, swarm: 14, rows: [2825, 2880, 2935], minus: 33, plus: 24 }, treatCategories, jTicks, jMeans, jErrors, jPoints, jStars, jStarLevels);
drawBarChart('chart-l', { axisX: 2070, y0: 3607, yTop: 3198, tickLeft: 2054, xEnd: 2468, tickRight: 2048, first: 2139, step: 86, barW: 69, swarm: 28, tickFont: 43, rotated: 46 }, cmCategories, lTicks, lMeans, lErrors, lPoints, lStars, lStarLevels);
drawBarChart('chart-n', { axisX: 2067.5, y0: 4456.5, yTop: 4058, tickLeft: 2051, xEnd: 2466, tickRight: 2043, first: 2135.5, step: 86.3, barW: 69, swarm: 13, rotated: 42 }, cmCategories, nTicks, nMeans, nErrors, nPoints, nStars, nStarLevels);
drawBarChart('chart-o', { axisX: 2764, y0: 4456.5, yTop: 4058, tickLeft: 2748, xEnd: 3162, tickRight: 2741, first: 2832.5, step: 86.3, barW: 69, swarm: 13, rotated: 42 }, cmCategories, oTicks, oMeans, oErrors, oPoints, oStars, oStarLevels);
</script>
</body>
</html>
